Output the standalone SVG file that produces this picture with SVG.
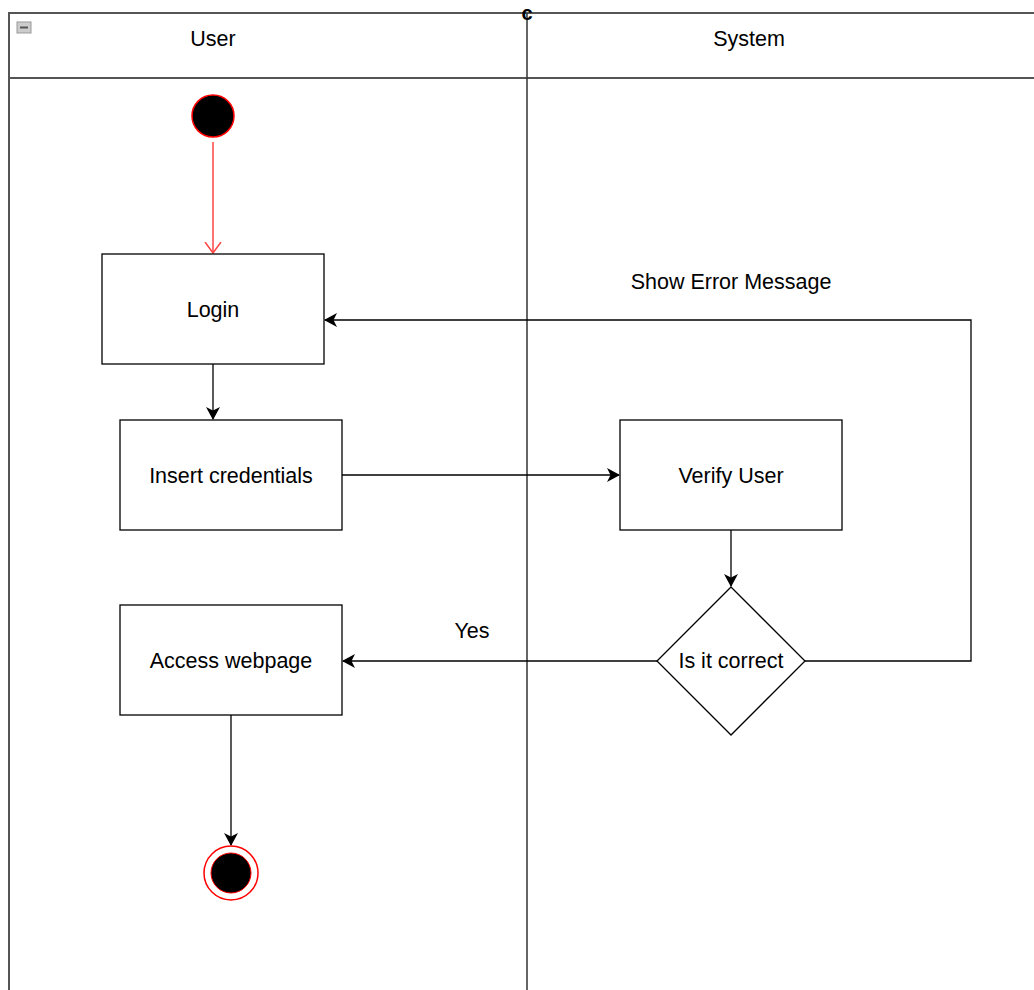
<svg xmlns="http://www.w3.org/2000/svg" width="1034" height="990" viewBox="0 0 1034 990">
<style>
.lane{fill:none;stroke:#555;stroke-width:2}
.box{fill:#fff;stroke:#000;stroke-width:1.3}
.t{font-family:"Liberation Sans",Arial,sans-serif;font-size:21.5px;fill:#000;text-anchor:middle;dominant-baseline:central}
.c{fill:none;stroke:#000;stroke-width:1.3}
</style>
<defs>
<marker id="ah" markerWidth="14" markerHeight="14" refX="12" refY="7" orient="auto" markerUnits="userSpaceOnUse">
<path d="M0,0 L13,7 L0,14 L3.5,7 Z" fill="#000"/>
</marker>
<marker id="ahr" markerWidth="14" markerHeight="18" refX="11" refY="9" orient="auto" markerUnits="userSpaceOnUse">
<path d="M0,1 L11,9 L0,17" fill="none" stroke="#f44" stroke-width="1.5"/>
</marker>
</defs>
<rect width="1034" height="990" fill="#fff"/>
<g id="pool">
<path class="lane" d="M9,990 V13 H1034"/>
<line class="lane" x1="9" y1="78" x2="1034" y2="78"/>
<line x1="527" y1="13" x2="527" y2="990" stroke="#333" stroke-width="1.5"/>
<text x="527" y="13" font-family="Liberation Sans,Arial,sans-serif" font-size="20" font-weight="bold" text-anchor="middle" dominant-baseline="central">c</text>
<rect x="17" y="22" width="14" height="11" fill="#ccc" stroke="#999" stroke-width="1"/>
<line x1="20" y1="27.5" x2="28" y2="27.5" stroke="#555" stroke-width="2"/>
<text class="t" x="213" y="39">User</text>
<text class="t" x="749" y="39">System</text>
</g>
<g id="connectors">
<line x1="213" y1="142" x2="213" y2="253" stroke="#f44" stroke-width="1.5" marker-end="url(#ahr)"/>
<line class="c" x1="213" y1="364" x2="213" y2="419" marker-end="url(#ah)"/>
<line class="c" x1="342" y1="475" x2="619" y2="475" marker-end="url(#ah)"/>
<line class="c" x1="731" y1="530" x2="731" y2="586" marker-end="url(#ah)"/>
<line class="c" x1="657" y1="661" x2="343" y2="661" marker-end="url(#ah)"/>
<polyline class="c" points="805,661 971,661 971,320 325,320" marker-end="url(#ah)"/>
<line class="c" x1="231" y1="715" x2="231" y2="845" marker-end="url(#ah)"/>
<text class="t" x="472" y="631">Yes</text>
<text class="t" x="731" y="282">Show Error Message</text>
</g>
<g id="start"><circle cx="213" cy="116" r="21" fill="#000" stroke="#f00" stroke-width="1.5"/></g>
<g id="login"><rect class="box" x="102" y="254" width="222" height="110"/><text class="t" x="213" y="310">Login</text></g>
<g id="insert"><rect class="box" x="120" y="420" width="222" height="110"/><text class="t" x="231" y="476">Insert credentials</text></g>
<g id="verify"><rect class="box" x="620" y="420" width="222" height="110"/><text class="t" x="731" y="476">Verify User</text></g>
<g id="decision"><polygon class="box" points="731,587 805,661 731,735 657,661"/><text class="t" x="731" y="661">Is it correct</text></g>
<g id="access"><rect class="box" x="120" y="605" width="222" height="110"/><text class="t" x="231" y="661">Access webpage</text></g>
<g id="end"><circle cx="231" cy="873" r="27" fill="#fff" stroke="#f00" stroke-width="1.5"/><circle cx="231" cy="873" r="20" fill="#000" stroke="#f00" stroke-width="1"/></g>
</svg>
